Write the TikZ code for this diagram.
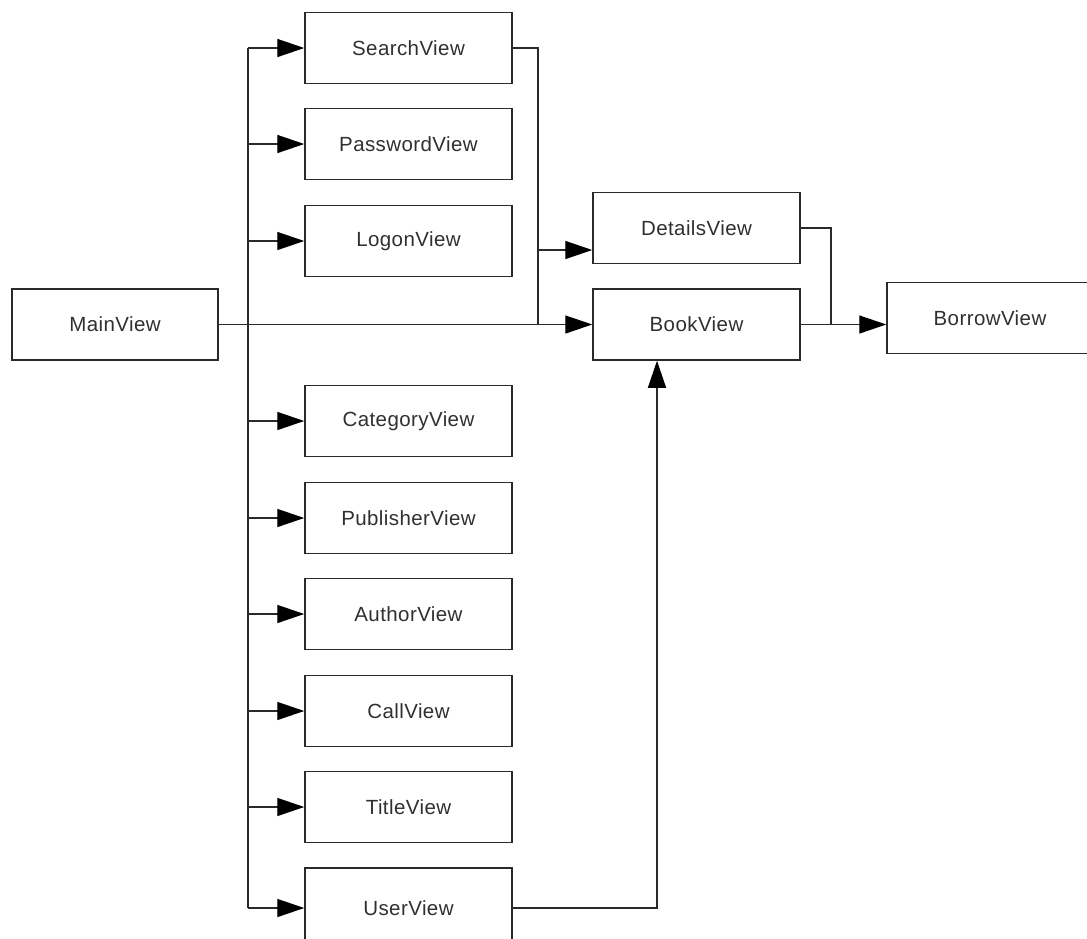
\documentclass[tikz,border=0pt]{standalone}
\usepackage{fontspec}
\setmainfont[LetterSpace=2]{Liberation Sans}
\usetikzlibrary{arrows.meta}
\definecolor{ln}{HTML}{2A2A2A}
\definecolor{tx}{HTML}{303030}
\tikzset{
  view/.style={draw=ln, line width=1.5pt, minimum width=207pt, minimum height=71pt,
    inner sep=0pt, font=\fontsize{20.5}{24}\selectfont, text=tx},
  conn/.style={draw=ln, line width=1.4pt},
  arr/.style={conn, -{Triangle[length=27pt,width=18pt,fill=black,color=black]}}
}
\begin{document}
\begin{tikzpicture}[x=1pt,y=-1pt]
\useasboundingbox (0,0) rectangle (1087,938);
\node[view, minimum width=206pt] (main) at (115,324.5) {MainView};
\node[view] (search) at (408.5,48) {SearchView};
\node[view] (password) at (408.5,144) {PasswordView};
\node[view] (logon) at (408.5,241) {LogonView};
\node[view] (category) at (408.5,421) {CategoryView};
\node[view] (publisher) at (408.5,518) {PublisherView};
\node[view] (author) at (408.5,614) {AuthorView};
\node[view] (call) at (408.5,711) {CallView};
\node[view] (title) at (408.5,807) {TitleView};
\node[view, minimum height=80pt] (user) at (408.5,908) {UserView};
\node[view] (details) at (696.5,228) {DetailsView};
\node[view] (book) at (696.5,324.5) {BookView};
\node[view, minimum width=206pt] (borrow) at (990,318) {BorrowView};
\coordinate (trunk) at (248,0);
\coordinate (sj) at (538,0);
\coordinate (dj) at (831,0);
\coordinate (uj) at (657,0);
\coordinate (din) at ([yshift=-22pt]details.west);
% trunk
\draw[conn] (trunk |- search.west) -- (trunk |- user.west);
\foreach \n in {search,password,logon,category,publisher,author,call,title,user}
  \draw[arr] (trunk |- \n.west) -- (\n.west);
% main to book
\draw[arr] (main.east) -- (main.east -| book.west);
% search to details/book
\draw[conn] (search.east) -| (sj |- main.east);
\draw[arr] (sj |- din) -- (din);
% details/book to borrow
\draw[conn] (details.east) -| (dj |- book.east);
\draw[arr] (book.east) -- (book.east -| borrow.west);
% user to book
\draw[arr] (user.east) -| (uj |- book.south);
\end{tikzpicture}
\end{document}
